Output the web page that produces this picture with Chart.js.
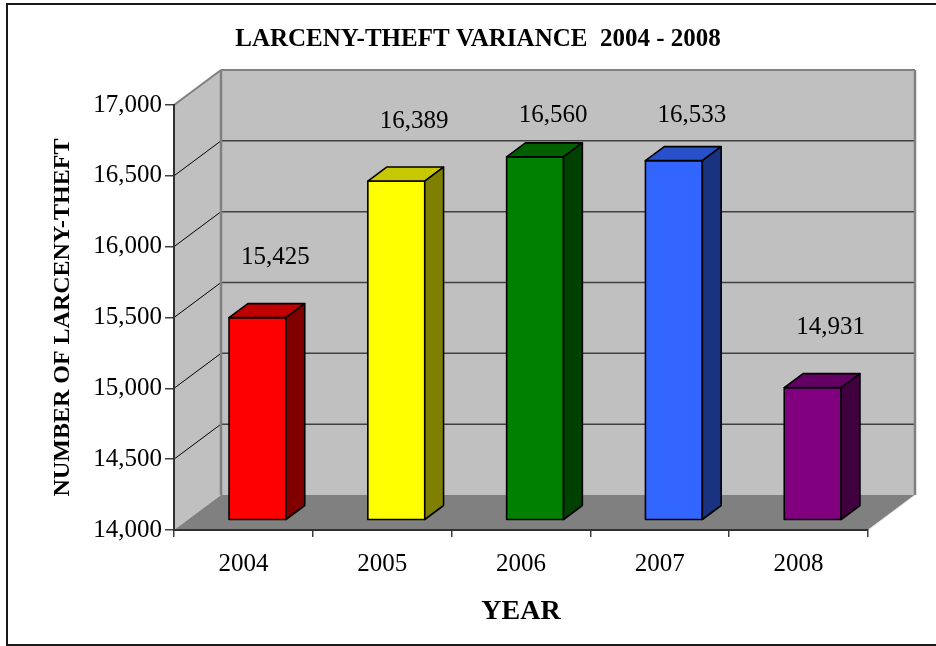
<!DOCTYPE html>
<html>
<head>
<meta charset="utf-8">
<script src="https://cdn.jsdelivr.net/npm/chart.js@4.4.1/dist/chart.umd.min.js"></script>
<style>
    html, body { margin: 0; padding: 0; background: #ffffff; }
    #wrap { position: relative; width: 936px; height: 646px; }
</style>
</head>
<body>
<div id="wrap"><canvas id="chart"></canvas></div>
<script>
var years = ['2004', '2005', '2006', '2007', '2008'];
var larceny = [15425, 16389, 16560, 16533, 14931];
var yMin = 14000;
var yMax = 17000;
var yStep = 500;
var chartTitle = 'LARCENY-THEFT VARIANCE  2004 - 2008';

// colours of the three visible faces of each column
var frontColors = ['#ff0000', '#ffff00', '#008000', '#3366ff', '#800080'];
var topColors = ['#c00000', '#c8c800', '#006000', '#2850c8', '#640064'];
var sideColors = ['#800000', '#808000', '#004000', '#1a3380', '#400040'];

var DX = 47, DY = -35;      // depth of the 3d box
var serif = '"Liberation Serif", "Times New Roman", serif';

function poly(ctx, pts, fill, stroke, lw) {
    ctx.beginPath();
    ctx.moveTo(pts[0][0], pts[0][1]);
    for (var i = 1; i < pts.length; i++) ctx.lineTo(pts[i][0], pts[i][1]);
    ctx.closePath();
    if (fill) { ctx.fillStyle = fill; ctx.fill(); }
    if (stroke) { ctx.strokeStyle = stroke; ctx.lineWidth = lw || 1; ctx.stroke(); }
}

function line(ctx, x1, y1, x2, y2, color, lw) {
    ctx.beginPath();
    ctx.moveTo(x1, y1);
    ctx.lineTo(x2, y2);
    ctx.strokeStyle = color;
    ctx.lineWidth = lw;
    ctx.stroke();
}

var wallsPlugin = {
    id: 'walls',
    beforeDraw: function (chart) {
        var ctx = chart.ctx;
        var a = chart.chartArea;
        var L = a.left, R = a.right, T = a.top, B = a.bottom;
        ctx.save();
        // frame of the whole picture
        ctx.strokeStyle = '#1a1a1a';
        ctx.lineWidth = 2;
        ctx.strokeRect(7, 4, 945, 641);

        ctx.fillStyle = '#000000';
        ctx.font = 'bold 25px ' + serif;
        ctx.textAlign = 'center';
        ctx.textBaseline = 'middle';
        ctx.fillText(chartTitle, 478, 40);

        poly(ctx, [[L, T], [L + DX, T + DY], [L + DX, B + DY], [L, B]], '#c0c0c0');
        poly(ctx, [[L + DX, T + DY], [R + DX, T + DY], [R + DX, B + DY], [L + DX, B + DY]], '#c0c0c0');
        poly(ctx, [[L, B], [R, B], [R + DX, B + DY], [L + DX, B + DY]], '#808080');

        var ys = chart.scales.y;
        ys.ticks.forEach(function (t) {
            var y = ys.getPixelForValue(t.value);
            if (t.value > yMin) line(ctx, L + DX, y + DY, R + DX, y + DY, '#404040', 1.5);
            if (t.value > yMin && t.value < yMax) line(ctx, L, y, L + DX, y + DY, '#000000', 1);
        });
        line(ctx, L, T, L + DX, T + DY, '#808080', 2);
        line(ctx, L + DX, T + DY, R + DX, T + DY, '#808080', 2);
        line(ctx, R + DX, T + DY, R + DX, B + DY, '#808080', 2.5);
        line(ctx, L + DX, T + DY, L + DX, B + DY, '#808080', 2.5);
        line(ctx, R, B, R + DX, B + DY, '#e0e0e0', 1);
        ctx.restore();
    },
    afterDatasetsDraw: function (chart) {
        var ctx = chart.ctx;
        var meta = chart.getDatasetMeta(0);
        var ys = chart.scales.y;
        var fx = DX * 0.3, fy = DY * 0.3;
        var dx = DX * 0.4, dy = DY * 0.4;
        ctx.save();
        ctx.lineJoin = 'round';
        meta.data.forEach(function (el, i) {
            var x0 = el.x - el.width / 2 + fx;
            var x1 = el.x + el.width / 2 + fx;
            var yt = el.y + fy;
            var yb = ys.getPixelForValue(yMin) + fy;
            poly(ctx, [[x0, yt], [x1, yt], [x1, yb], [x0, yb]], frontColors[i], '#000000', 1.6);
            poly(ctx, [[x0, yt], [x0 + dx, yt + dy], [x1 + dx, yt + dy], [x1, yt]], topColors[i], '#000000', 1.6);
            poly(ctx, [[x1, yt], [x1 + dx, yt + dy], [x1 + dx, yb + dy], [x1, yb]], sideColors[i], '#000000', 1.6);

            // value label above the column
            ctx.fillStyle = '#000000';
            ctx.font = '25px ' + serif;
            ctx.textAlign = 'center';
            ctx.textBaseline = 'middle';
            var ly = Math.max(yt - 60, 115);
            ctx.fillText(larceny[i].toLocaleString('en-US'), el.x + 32, ly);
        });
        ctx.restore();
    }
};

var canvas = document.getElementById('chart');
new Chart(canvas.getContext('2d'), {
    type: 'bar',
    data: {
        labels: years,
        datasets: [{
            data: larceny,
            base: yMin,
            backgroundColor: 'rgba(0,0,0,0)',
            borderWidth: 0,
            categoryPercentage: 1.0,
            barPercentage: 0.41
        }]
    },
    options: {
        responsive: true,
        maintainAspectRatio: false,
        animation: false,
        events: [],
        layout: { padding: { left: 0, right: 68, top: 105, bottom: 0 } },
        plugins: {
            legend: { display: false },
            tooltip: { enabled: false },
            title: { display: false }
        },
        scales: {
            x: {
                afterFit: function (scale) { scale.height = 116; },
                grid: {
                    display: true,
                    offset: true,
                    drawOnChartArea: false,
                    color: '#404040',
                    lineWidth: 1.5,
                    tickLength: 7
                },
                border: { display: true, color: '#303030', width: 2 },
                ticks: {
                    color: '#000000',
                    padding: 12,
                    font: { family: serif, size: 25 }
                },
                title: {
                    display: true,
                    text: 'YEAR',
                    color: '#000000',
                    font: { family: serif, size: 28, weight: 'bold' },
                    padding: { top: 0, bottom: 17 }
                }
            },
            y: {
                min: yMin,
                max: yMax,
                beginAtZero: false,
                afterFit: function (scale) { scale.width = 174; },
                grid: {
                    display: true,
                    drawOnChartArea: false,
                    color: '#404040',
                    lineWidth: 1.5,
                    tickLength: 9
                },
                border: { display: true, color: '#303030', width: 2 },
                ticks: {
                    stepSize: yStep,
                    color: '#000000',
                    padding: 3,
                    font: { family: serif, size: 25 },
                    callback: function (v) { return v.toLocaleString('en-US'); }
                },
                title: {
                    display: true,
                    text: 'NUMBER OF LARCENY-THEFT',
                    color: '#000000',
                    font: { family: serif, size: 24, weight: 'bold' },
                    padding: { top: 48, bottom: 0 }
                }
            }
        }
    },
    plugins: [wallsPlugin]
});
</script>
</body>
</html>
